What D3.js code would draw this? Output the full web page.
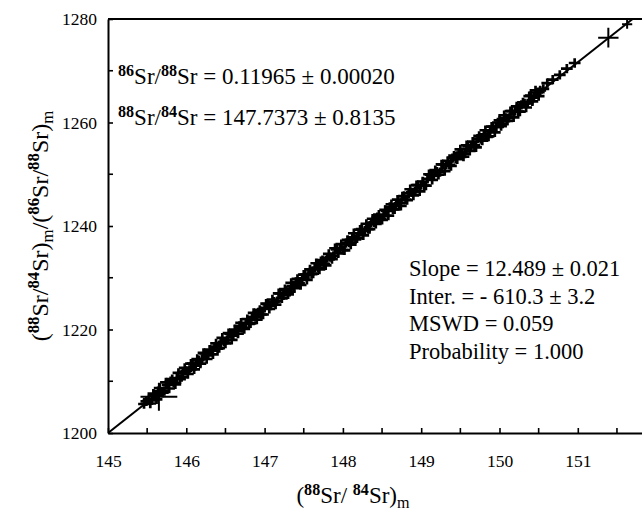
<!DOCTYPE html>
<html>
<head>
<meta charset="utf-8">
<script src="https://cdn.jsdelivr.net/npm/d3@7/dist/d3.min.js"></script>
<style>
  body { margin: 0; background: #fff; }
  svg { display: block; }
  text { font-family: "Liberation Serif", "Times New Roman", serif; fill: #000; white-space: pre; }
</style>
</head>
<body>
<svg id="chart" width="642" height="513"></svg>
<script>
// Measured (88Sr/84Sr)m for each cycle
const ratioX = [
  145.46, 145.49,
  145.52, 145.56, 145.60, 145.64, 145.68, 145.72, 145.76, 145.80, 145.84, 145.88, 145.92, 145.96, 146.00,
  146.04, 146.08, 146.12, 146.16, 146.20, 146.24, 146.28, 146.32, 146.36, 146.40, 146.44, 146.48,
  146.52, 146.56, 146.60, 146.64, 146.68, 146.72, 146.76, 146.80, 146.84, 146.88, 146.92, 146.96, 147.00,
  147.04, 147.08, 147.12, 147.16, 147.20, 147.24, 147.28, 147.32, 147.36, 147.40, 147.44, 147.48,
  147.52, 147.56, 147.60, 147.64, 147.68, 147.72, 147.76, 147.80, 147.84, 147.88, 147.92, 147.96, 148.00,
  148.04, 148.08, 148.12, 148.16, 148.20, 148.24, 148.28, 148.32, 148.36, 148.40, 148.44, 148.48,
  148.52, 148.56, 148.60, 148.64, 148.68, 148.72, 148.76, 148.80, 148.84, 148.88, 148.92, 148.96, 149.00,
  149.04, 149.08, 149.12, 149.16, 149.20, 149.24, 149.28, 149.32, 149.36, 149.40, 149.44, 149.48,
  149.52, 149.56, 149.60, 149.64, 149.68, 149.72, 149.76, 149.80, 149.84, 149.88, 149.92, 149.96, 150.00,
  150.04, 150.08, 150.12, 150.16, 150.20, 150.24, 150.28, 150.32, 150.36, 150.40, 150.44, 150.48,
  150.52, 150.56, 150.61, 150.68, 150.77, 150.86, 150.96,
  // second half of the run
  145.54, 145.58, 145.62, 145.66, 145.70, 145.74, 145.78, 145.82, 145.86, 145.90, 145.94, 145.98, 146.02,
  146.06, 146.10, 146.14, 146.18, 146.22, 146.26, 146.30, 146.34, 146.38, 146.42, 146.46, 146.50,
  146.54, 146.58, 146.62, 146.66, 146.70, 146.74, 146.78, 146.82, 146.86, 146.90, 146.94, 146.98, 147.02,
  147.06, 147.10, 147.14, 147.18, 147.22, 147.26, 147.30, 147.34, 147.38, 147.42, 147.46, 147.50,
  147.54, 147.58, 147.62, 147.66, 147.70, 147.74, 147.78, 147.82, 147.86, 147.90, 147.94, 147.98, 148.02,
  148.06, 148.10, 148.14, 148.18, 148.22, 148.26, 148.30, 148.34, 148.38, 148.42, 148.46, 148.50,
  148.54, 148.58, 148.62, 148.66, 148.70, 148.74, 148.78, 148.82, 148.86, 148.90, 148.94, 148.98, 149.02,
  149.06, 149.10, 149.14, 149.18, 149.22, 149.26, 149.30, 149.34, 149.38, 149.42, 149.46, 149.50,
  149.54, 149.58, 149.62, 149.66, 149.70, 149.74, 149.78, 149.82, 149.86, 149.90, 149.94, 149.98, 150.02,
  150.06, 150.10, 150.14, 150.18, 150.22, 150.26, 150.30, 150.34, 150.38, 150.42, 150.46, 150.50
];
// Measured (88Sr/84Sr)m / (86Sr/88Sr)m for the same cycles
const ratioY = [
  1205.6, 1206.1,
  1206.5, 1206.3, 1207.3, 1208.1, 1207.9, 1208.1, 1209.3, 1210.0, 1209.7, 1210.6, 1210.4, 1211.8, 1212.0,
  1212.2, 1213.4, 1213.0, 1214.1, 1214.3, 1215.4, 1215.0, 1215.9, 1216.7, 1216.3, 1217.4, 1217.6,
  1218.0, 1219.2, 1218.8, 1219.8, 1220.7, 1220.3, 1221.2, 1221.1, 1222.4, 1222.4, 1223.3, 1222.9, 1224.2,
  1224.9, 1224.6, 1225.4, 1225.5, 1227.0, 1226.6, 1227.6, 1227.3, 1228.4, 1229.2, 1228.9, 1229.9,
  1230.6, 1230.6, 1230.7, 1231.9, 1231.9, 1233.2, 1232.7, 1233.8, 1234.0, 1234.2, 1235.5, 1235.6, 1235.4,
  1236.7, 1236.8, 1237.8, 1237.4, 1238.6, 1239.4, 1239.1, 1239.4, 1240.6, 1240.7, 1241.7, 1241.4,
  1241.9, 1242.9, 1243.7, 1243.2, 1244.2, 1244.4, 1245.7, 1245.1, 1246.3, 1246.5, 1246.7, 1247.9, 1247.9,
  1247.8, 1249.1, 1249.9, 1249.7, 1250.5, 1250.4, 1251.9, 1251.8, 1251.8, 1253.1, 1253.0, 1254.1,
  1254.2, 1254.0, 1255.4, 1255.4, 1255.6, 1256.9, 1256.8, 1257.7, 1257.2, 1258.4, 1259.2, 1259.1, 1260.4,
  1259.8, 1260.9, 1260.9, 1262.2, 1262.2, 1262.1, 1263.4, 1263.7, 1263.7, 1265.2, 1264.8, 1265.8,
  1266.2, 1266.5, 1267.6, 1268.3, 1269.2, 1270.4, 1271.5,
  // second half of the run
  1205.7, 1207.6, 1206.5, 1208.7, 1207.8, 1209.8, 1208.6, 1210.4, 1209.4, 1211.6, 1210.8, 1212.6, 1211.4,
  1213.4, 1212.3, 1214.3, 1213.4, 1215.5, 1214.3, 1216.1, 1215.2, 1217.3, 1216.4, 1218.4, 1217.3,
  1219.3, 1218.0, 1220.0, 1219.2, 1221.3, 1220.1, 1222.0, 1221.2, 1223.2, 1221.9, 1223.8, 1222.9, 1225.0,
  1224.0, 1225.8, 1224.8, 1227.0, 1226.0, 1227.8, 1226.8, 1229.0, 1228.0, 1229.8, 1228.6, 1230.6,
  1229.6, 1231.6, 1230.8, 1232.8, 1231.6, 1233.4, 1232.4, 1234.6, 1233.6, 1235.7, 1234.7, 1236.5, 1235.3,
  1237.3, 1236.4, 1238.6, 1237.6, 1239.3, 1238.2, 1240.4, 1239.4, 1241.4, 1240.4, 1242.2, 1241.2,
  1243.1, 1242.0, 1244.2, 1243.2, 1245.1, 1243.9, 1245.8, 1245.0, 1247.1, 1245.9, 1247.9, 1246.7, 1248.6,
  1247.8, 1250.0, 1248.9, 1250.8, 1249.9, 1251.9, 1250.6, 1252.6, 1251.6, 1253.6, 1252.9, 1254.8,
  1253.4, 1255.6, 1254.5, 1256.3, 1255.2, 1257.4, 1256.5, 1258.5, 1257.3, 1259.2, 1258.1, 1260.0, 1259.3,
  1261.4, 1260.3, 1262.2, 1261.0, 1263.1, 1262.1, 1263.9, 1262.9, 1265.1, 1264.1, 1266.2, 1265.1
];
// Typical 2-sigma uncertainty of a single cycle
const cycleErrX = 0.075;
const cycleErrY = 0.9;

// Cycles with larger uncertainties
const wideX = [145.65, 151.39, 151.63];
const wideY = [1207.0, 1276.4, 1279.0];
const wideErrX = [0.235, 0.13, 0.065];
const wideErrY = [2.7, 1.9, 0.9];

// Regression line end points
const fitX = [145, 151.70];
const fitY = [1200, 1280];

// Axis ticks
const xMajor = [145, 146, 147, 148, 149, 150, 151];
const xMinor = [145.5, 146.5, 147.5, 148.5, 149.5, 150.5, 151.5];
const yMajor = [1200, 1220, 1240, 1260, 1280];
const yMinor = [1210, 1230, 1250, 1270];

// Annotation text
const ratioLines = [
  [{t: "86", sup: true}, {t: "Sr/"}, {t: "88", sup: true}, {t: "Sr = 0.11965 \u00b1 0.00020"}],
  [{t: "88", sup: true}, {t: "Sr/"}, {t: "84", sup: true}, {t: "Sr = 147.7373 \u00b1 0.8135"}]
];
const statLines = [
  "Slope = 12.489 \u00b1 0.021",
  "Inter. = - 610.3 \u00b1 3.2",
  "MSWD = 0.059",
  "Probability = 1.000"
];
const xTitle = [{t: "("}, {t: "88", sup: true}, {t: "Sr/ "}, {t: "84", sup: true}, {t: "Sr)"}, {t: "m", sub: true}];
const yTitle = [{t: "("}, {t: "88", sup: true}, {t: "Sr/"}, {t: "84", sup: true}, {t: "Sr)"}, {t: "m", sub: true},
  {t: "/("}, {t: "86", sup: true}, {t: "Sr/"}, {t: "88", sup: true}, {t: "Sr)"}, {t: "m", sub: true}];

const svg = d3.select("#chart");
const plotLeft = 108, plotTop = 19, plotBottom = 433;
const x = d3.scaleLinear().domain([145, 152]).range([plotLeft, plotLeft + 7 * 78.3]);
const y = d3.scaleLinear().domain([1200, 1280]).range([plotBottom, plotTop]);

svg.append("defs").append("clipPath").attr("id", "plot")
  .append("rect").attr("x", plotLeft).attr("y", plotTop - 6)
  .attr("width", 642 - plotLeft).attr("height", plotBottom - plotTop + 6);

// Text with superscript / subscript pieces
function richText(g, px, py, parts, size, anchor) {
  const t = g.append("text").attr("x", px).attr("y", py)
    .attr("font-size", size).attr("text-anchor", anchor || "start");
  let shift = 0;
  parts.forEach(p => {
    const target = p.sup ? -0.36 * size : p.sub ? 0.2 * size : 0;
    const ts = t.append("tspan").attr("dy", target - shift).text(p.t);
    if (p.sup || p.sub) ts.attr("font-size", size * 0.7);
    if (p.sup) ts.attr("font-weight", "bold");
    shift = target;
  });
  return t;
}

// Axes with inward ticks
const xAxis = svg.append("g").attr("transform", `translate(0,${plotBottom})`)
  .call(d3.axisBottom(x).tickValues(xMajor).tickFormat(d3.format("d"))
    .tickSizeInner(-5).tickSizeOuter(0).tickPadding(22));
xAxis.selectAll(".tick line").attr("stroke-width", 1.6);
xAxis.selectAll("text").attr("font-size", 17.5).attr("font-family", null);
xAxis.select(".domain").attr("stroke-width", 2);
xAxis.selectAll(".minor").data(xMinor).enter().append("line")
  .attr("x1", d => x(d)).attr("x2", d => x(d)).attr("y1", 0).attr("y2", -5)
  .attr("stroke", "#000").attr("stroke-width", 1.6);

const yAxis = svg.append("g").attr("transform", `translate(${plotLeft},0)`)
  .call(d3.axisLeft(y).tickValues(yMajor).tickFormat(d3.format("d"))
    .tickSizeInner(-5).tickSizeOuter(0).tickPadding(11));
yAxis.selectAll(".tick line").attr("stroke-width", 1.6);
yAxis.selectAll("text").attr("font-size", 17.5).attr("font-family", null);
yAxis.select(".domain").attr("stroke-width", 2);
yAxis.selectAll(".minor").data(yMinor).enter().append("line")
  .attr("y1", d => y(d)).attr("y2", d => y(d)).attr("x1", 0).attr("x2", 5)
  .attr("stroke", "#000").attr("stroke-width", 1.6);

// Frame top edge
svg.append("line").attr("x1", x(145)).attr("x2", x(152)).attr("y1", y(1280)).attr("y2", y(1280))
  .attr("stroke", "#000").attr("stroke-width", 2);

const plot = svg.append("g").attr("clip-path", "url(#plot)");

// Regression line
plot.append("line")
  .attr("x1", x(fitX[0])).attr("y1", y(fitY[0]))
  .attr("x2", x(fitX[1])).attr("y2", y(fitY[1]))
  .attr("stroke", "#000").attr("stroke-width", 2);

// Error crosses
function crossPath(cx, cy, ex, ey) {
  return `M${x(cx - ex)},${y(cy)}H${x(cx + ex)}M${x(cx)},${y(cy - ey)}V${y(cy + ey)}`;
}
plot.append("g").selectAll("path").data(ratioX).enter().append("path")
  .attr("d", (d, i) => crossPath(d, ratioY[i], cycleErrX, cycleErrY))
  .attr("stroke", "#000").attr("stroke-width", 2.7).attr("fill", "none");
plot.append("g").selectAll("path").data(wideX).enter().append("path")
  .attr("d", (d, i) => crossPath(d, wideY[i], wideErrX[i], wideErrY[i]))
  .attr("stroke", "#000").attr("stroke-width", 2).attr("fill", "none");

// Annotations
const notes = svg.append("g");
ratioLines.forEach((parts, i) => richText(notes, 118, 84 + i * 41, parts, 23));
statLines.forEach((s, i) => notes.append("text").attr("x", 409).attr("y", 276 + i * 27.7)
  .attr("font-size", 22.5).text(s));

// Axis titles
richText(svg, 353, 503, xTitle, 23, "middle");
const yt = svg.append("g").attr("transform", "translate(48,226) rotate(-90)");
richText(yt, 0, 0, yTitle, 24, "middle");
</script>
</body>
</html>
